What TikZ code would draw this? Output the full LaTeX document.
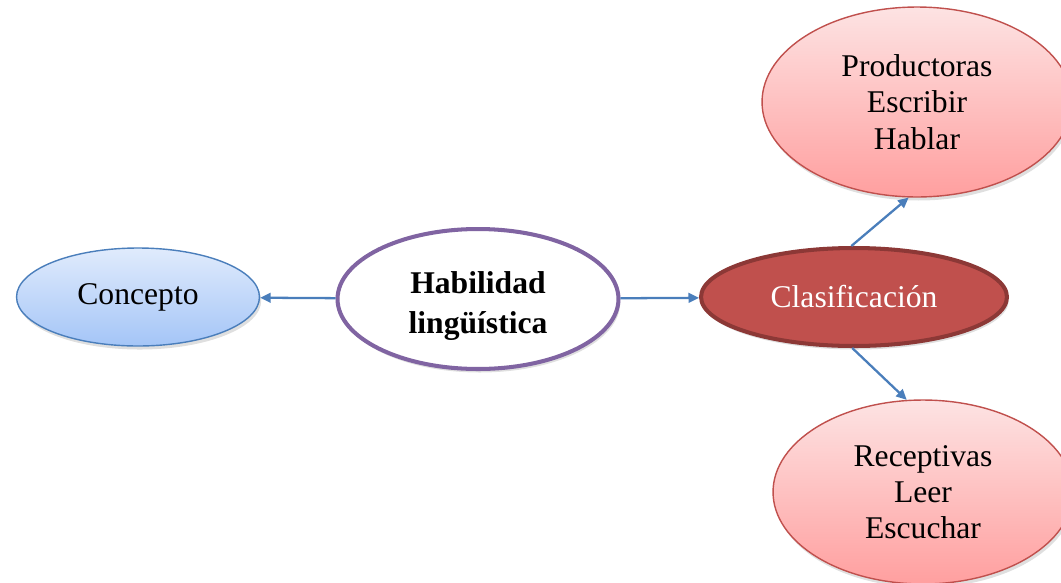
\documentclass[tikz,border=0pt]{standalone}
\usepackage{fontspec}
\setmainfont{Liberation Serif}
\usetikzlibrary{shapes.geometric,shadows,arrows.meta}

\definecolor{linkblue}{HTML}{4A7EBB}
\definecolor{skytop}{HTML}{E0EBFC}
\definecolor{skybot}{HTML}{A4C5F7}
\definecolor{rosetop}{HTML}{FDE3E3}
\definecolor{rosebot}{HTML}{FF9F9F}
\definecolor{roseline}{HTML}{C0504D}
\definecolor{wine}{HTML}{C0504D}
\definecolor{wineline}{HTML}{8C3836}
\definecolor{lilac}{HTML}{8064A2}

\tikzset{
  bubble/.style={ellipse, inner sep=0pt, align=center, font=\fontsize{18}{20.6}\selectfont,
    drop shadow={shadow xshift=1pt, shadow yshift=-2pt, opacity=0.25}},
  link/.style={->, linkblue, line width=1.3pt}
}

\begin{document}
\begin{tikzpicture}[>={Stealth[inset=0pt, length=6pt, width=5.5pt]}, x=0.02cm, y=-0.02cm]
  \useasboundingbox (0, 0) rectangle (1061, 582);
  \clip (0, 0) rectangle (1061, 582);

  \node[bubble, draw=linkblue, thick, top color=skytop, bottom color=skybot,
    minimum width=4.86cm, minimum height=1.96cm] (concepto) at (138, 297) {Concepto};
  \node[bubble, draw=lilac, line width=2.3pt, fill=white, font=\fontsize{18}{22.5}\selectfont\bfseries,
    minimum width=5.62cm, minimum height=2.8cm] (habilidad) at (478, 299)
    {\raisebox{-8pt}[0pt][0pt]{\begin{tabular}{@{}c@{}}Habilidad\\ lingüística\end{tabular}}};
  \node[bubble, draw=wineline, line width=2.3pt, fill=wine, text=white,
    minimum width=6.12cm, minimum height=1.96cm] (clasif) at (854, 297) {Clasificación};
  \node[bubble, draw=roseline, thick, top color=rosetop, bottom color=rosebot,
    minimum width=6.2cm, minimum height=3.8cm] (product) at (917, 102) {Productoras\\ Escribir\\ Hablar};
  \node[bubble, draw=roseline, thick, top color=rosetop, bottom color=rosebot,
    minimum width=6.0cm, minimum height=3.68cm] (recept) at (923, 492) {Receptivas\\ Leer\\ Escuchar};

  \draw[link] (habilidad) -- (concepto);
  \draw[link] (habilidad) -- (clasif);
  \draw[link] (clasif.93) -- (product.265);
  \draw[link] (clasif.268) -- (recept.100);
\end{tikzpicture}
\end{document}
